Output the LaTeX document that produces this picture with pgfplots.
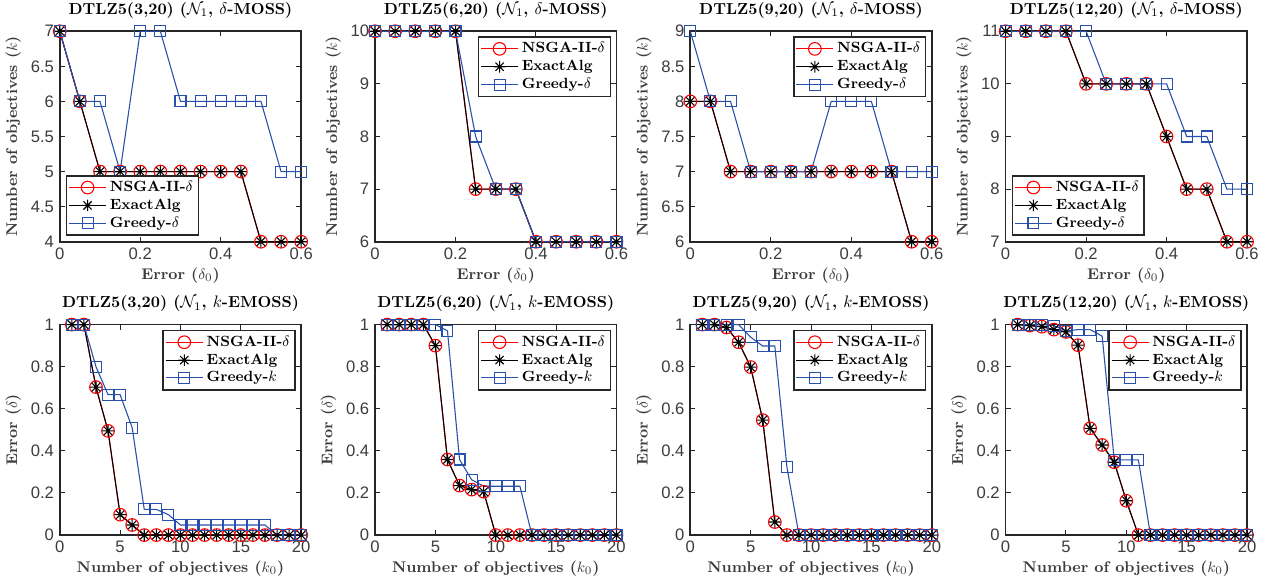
\documentclass[border=0pt]{standalone}
\usepackage{pgfplots}
\pgfplotsset{compat=1.18}
\usepackage{pgfplotstable}
\usepackage{fontspec}
\newfontfamily\helv{Liberation Sans}

\definecolor{mred}{RGB}{255,0,0}
\definecolor{mblue}{RGB}{40,80,170}
\definecolor{axgray}{RGB}{38,38,38}
\definecolor{txtgray}{RGB}{60,60,60}

% MATLAB-like 8-arm asterisk
\pgfdeclareplotmark{ast8}{%
  \pgfpathmoveto{\pgfqpoint{-\pgfplotmarksize}{0pt}}%
  \pgfpathlineto{\pgfqpoint{\pgfplotmarksize}{0pt}}%
  \pgfpathmoveto{\pgfqpoint{0pt}{-\pgfplotmarksize}}%
  \pgfpathlineto{\pgfqpoint{0pt}{\pgfplotmarksize}}%
  \pgfpathmoveto{\pgfqpoint{-.7071\pgfplotmarksize}{-.7071\pgfplotmarksize}}%
  \pgfpathlineto{\pgfqpoint{.7071\pgfplotmarksize}{.7071\pgfplotmarksize}}%
  \pgfpathmoveto{\pgfqpoint{-.7071\pgfplotmarksize}{.7071\pgfplotmarksize}}%
  \pgfpathlineto{\pgfqpoint{.7071\pgfplotmarksize}{-.7071\pgfplotmarksize}}%
  \pgfusepathqstroke}

\pgfplotsset{
  panel/.style={
    width=145.2pt, height=126.6pt, scale only axis,
    axis line style={axgray, line width=1pt},
    tick style={axgray, line width=0.6pt},
    major tick length=3pt,
    tick label style={font=\helv\fontsize{10}{11}\selectfont, text=txtgray},
    /pgf/number format/assume math mode=true,
    label style={font=\bfseries\fontsize{9.3}{10}\selectfont, text=txtgray},
    xlabel style={yshift=2pt},
    ylabel style={yshift=-1pt},
    title style={font=\bfseries\fontsize{9.6}{11}\selectfont, inner sep=1.5pt},
    legend style={font=\bfseries\fontsize{8.9}{10}\selectfont, draw=axgray,
      line width=1pt, inner sep=1.2pt, row sep=-1pt},
    legend cell align=left,
    legend image code/.code={\draw[mark repeat=2,mark phase=2,##1]
      plot coordinates {(0cm,0cm) (0.39cm,0cm) (0.78cm,0cm)};},
  },
  top/.style={panel, xmin=0, xmax=0.6, xtick={0,0.2,0.4,0.6},
    xlabel={Error ($\delta_0$)}, ylabel={Number of objectives ($k$)}},
  bot/.style={panel, xmin=0, xmax=20, xtick={0,5,10,15,20},
    ymin=0, ymax=1, ytick={0,0.2,0.4,0.6,0.8,1},
    xlabel={Number of objectives ($k_0$)}, ylabel={Error ($\delta$)}},
  legSW/.style={legend style={at={(0.025,0.028)}, anchor=south west}},
  legNE/.style={legend style={at={(0.978,0.976)}, anchor=north east}},
  sNS/.style={mred, line width=0.65pt, mark=o, mark size=3.8pt},
  sEX/.style={black, line width=0.65pt, mark=ast8, mark size=3.5pt},
  sGR/.style={mblue, line width=0.65pt, mark=square, mark size=3.3pt},
}

% top row: x = delta_0, e = NSGA-II / ExactAlg, g = Greedy
\pgfplotstableread{
x e g
0 7 7
0.05 6 6
0.1 5 6
0.15 5 5
0.2 5 7
0.25 5 7
0.3 5 6
0.35 5 6
0.4 5 6
0.45 5 6
0.5 4 6
0.55 4 5
0.6 4 5
}\tA
\pgfplotstableread{
x e g
0 10 10
0.05 10 10
0.1 10 10
0.15 10 10
0.2 10 10
0.25 7 8
0.3 7 7
0.35 7 7
0.4 6 6
0.45 6 6
0.5 6 6
0.55 6 6
0.6 6 6
}\tB
\pgfplotstableread{
x e g
0 8 9
0.05 8 8
0.1 7 8
0.15 7 7
0.2 7 7
0.25 7 7
0.3 7 7
0.35 7 8
0.4 7 8
0.45 7 8
0.5 7 7
0.55 6 7
0.6 6 7
}\tC
\pgfplotstableread{
x e g
0 11 11
0.05 11 11
0.1 11 11
0.15 11 11
0.2 10 11
0.25 10 10
0.3 10 10
0.35 10 10
0.4 9 10
0.45 8 9
0.5 8 9
0.55 7 8
0.6 7 8
}\tD

% bottom row: x = k_0
\pgfplotstableread{
x e g
1 1 1
2 1 1
3 0.703 0.8
4 0.495 0.667
5 0.097 0.667
6 0.048 0.51
7 0 0.122
8 0 0.122
9 0 0.097
10 0 0.048
11 0 0.048
12 0 0.048
13 0 0.048
14 0 0.048
15 0 0.048
16 0 0.048
17 0 0.048
18 0 0
19 0 0
20 0 0
}\bA
\pgfplotstableread{
x e g
1 1 1
2 1 1
3 1 1
4 1 1
5 0.9 1
6 0.359 0.97
7 0.235 0.359
8 0.216 0.263
9 0.206 0.232
10 0 0.232
11 0 0.232
12 0 0.232
13 0 0
14 0 0
15 0 0
16 0 0
17 0 0
18 0 0
19 0 0
20 0 0
}\bB
\pgfplotstableread{
x e g
1 1 1
2 1 1
3 0.986 1
4 0.916 1
5 0.798 0.94
6 0.546 0.898
7 0.062 0.898
8 0 0.324
9 0 0
10 0 0
11 0 0
12 0 0
13 0 0
14 0 0
15 0 0
16 0 0
17 0 0
18 0 0
19 0 0
20 0 0
}\bC
\pgfplotstableread{
x e g
1 1 1
2 0.995 1
3 0.99 1
4 0.976 0.995
5 0.965 0.97
6 0.902 0.976
7 0.507 0.976
8 0.428 0.945
9 0.346 0.357
10 0.163 0.357
11 0 0.357
12 0 0
13 0 0
14 0 0
15 0 0
16 0 0
17 0 0
18 0 0
19 0 0
20 0 0
}\bD

\begin{document}
\begin{tikzpicture}
\path (-34.2pt,-27.6pt) rectangle (726pt,319.2pt);

% ---------- top row ----------
\begin{axis}[top, at={(0pt,176.4pt)}, ymin=4, ymax=7, ytick={4,4.5,5,5.5,6,6.5,7},
  title={DTLZ5(3,20) ($\mathcal{N}_1$, $\delta$-MOSS)}, legSW]
\addplot[sNS] table[x=x,y=e] {\tA}; \addlegendentry{NSGA-II-$\delta$}
\addplot[sEX] table[x=x,y=e] {\tA}; \addlegendentry{ExactAlg}
\addplot[sGR] table[x=x,y=g] {\tA}; \addlegendentry{Greedy-$\delta$}
\end{axis}

\begin{axis}[top, at={(189.6pt,176.4pt)}, ymin=6, ymax=10, ytick={6,7,8,9,10},
  title={DTLZ5(6,20) ($\mathcal{N}_1$, $\delta$-MOSS)}, legNE]
\addplot[sNS] table[x=x,y=e] {\tB}; \addlegendentry{NSGA-II-$\delta$}
\addplot[sEX] table[x=x,y=e] {\tB}; \addlegendentry{ExactAlg}
\addplot[sGR] table[x=x,y=g] {\tB}; \addlegendentry{Greedy-$\delta$}
\end{axis}

\begin{axis}[top, at={(379.2pt,176.4pt)}, ymin=6, ymax=9, ytick={6,6.5,7,7.5,8,8.5,9},
  title={DTLZ5(9,20) ($\mathcal{N}_1$, $\delta$-MOSS)}, legNE]
\addplot[sNS] table[x=x,y=e] {\tC}; \addlegendentry{NSGA-II-$\delta$}
\addplot[sEX] table[x=x,y=e] {\tC}; \addlegendentry{ExactAlg}
\addplot[sGR] table[x=x,y=g] {\tC}; \addlegendentry{Greedy-$\delta$}
\end{axis}

\begin{axis}[top, at={(568.8pt,176.4pt)}, ymin=7, ymax=11, ytick={7,8,9,10,11},
  title={DTLZ5(12,20) ($\mathcal{N}_1$, $\delta$-MOSS)}, legSW]
\addplot[sNS] table[x=x,y=e] {\tD}; \addlegendentry{NSGA-II-$\delta$}
\addplot[sEX] table[x=x,y=e] {\tD}; \addlegendentry{ExactAlg}
\addplot[sGR] table[x=x,y=g] {\tD}; \addlegendentry{Greedy-$\delta$}
\end{axis}

% ---------- bottom row ----------
\begin{axis}[bot, at={(0pt,0pt)},
  title={DTLZ5(3,20) ($\mathcal{N}_1$, $k$-EMOSS)}, legNE]
\addplot[sNS] table[x=x,y=e] {\bA}; \addlegendentry{NSGA-II-$\delta$}
\addplot[sEX] table[x=x,y=e] {\bA}; \addlegendentry{ExactAlg}
\addplot[sGR] table[x=x,y=g] {\bA}; \addlegendentry{Greedy-$k$}
\end{axis}

\begin{axis}[bot, at={(189.6pt,0pt)},
  title={DTLZ5(6,20) ($\mathcal{N}_1$, $k$-EMOSS)}, legNE]
\addplot[sNS] table[x=x,y=e] {\bB}; \addlegendentry{NSGA-II-$\delta$}
\addplot[sEX] table[x=x,y=e] {\bB}; \addlegendentry{ExactAlg}
\addplot[sGR] table[x=x,y=g] {\bB}; \addlegendentry{Greedy-$k$}
\end{axis}

\begin{axis}[bot, at={(379.2pt,0pt)},
  title={DTLZ5(9,20) ($\mathcal{N}_1$, $k$-EMOSS)}, legNE]
\addplot[sNS] table[x=x,y=e] {\bC}; \addlegendentry{NSGA-II-$\delta$}
\addplot[sEX] table[x=x,y=e] {\bC}; \addlegendentry{ExactAlg}
\addplot[sGR] table[x=x,y=g] {\bC}; \addlegendentry{Greedy-$k$}
\end{axis}

\begin{axis}[bot, at={(568.8pt,0pt)},
  title={DTLZ5(12,20) ($\mathcal{N}_1$, $k$-EMOSS)}, legNE]
\addplot[sNS] table[x=x,y=e] {\bD}; \addlegendentry{NSGA-II-$\delta$}
\addplot[sEX] table[x=x,y=e] {\bD}; \addlegendentry{ExactAlg}
\addplot[sGR] table[x=x,y=g] {\bD}; \addlegendentry{Greedy-$k$}
\end{axis}
\end{tikzpicture}
\end{document}
